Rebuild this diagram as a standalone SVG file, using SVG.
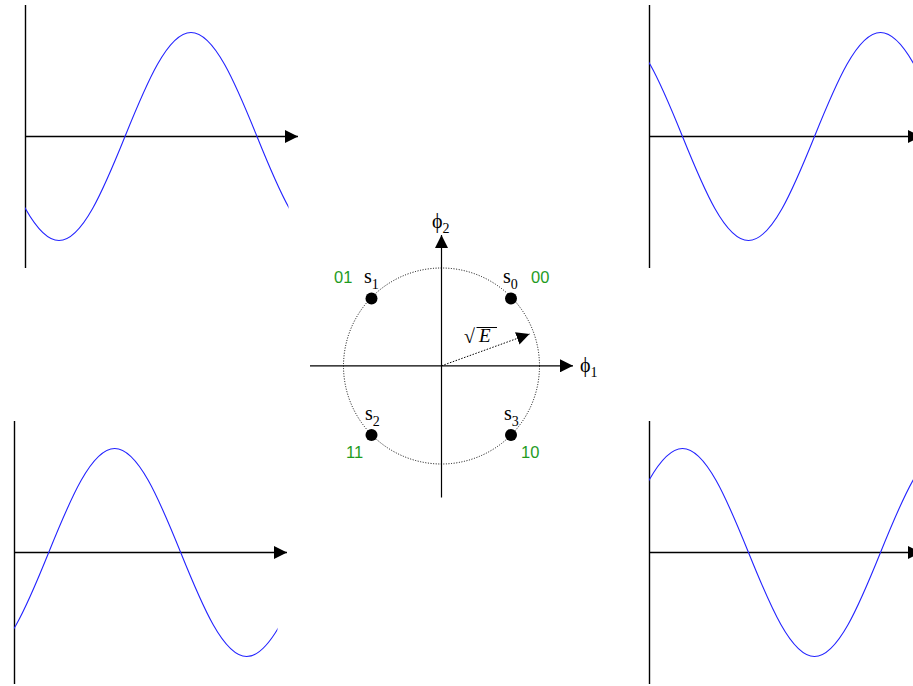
<svg xmlns="http://www.w3.org/2000/svg" width="913" height="686" viewBox="0 0 913 686">
<style>
.axis{stroke:#000;stroke-width:1.4;fill:none}
.caxis{stroke:#000;stroke-width:1.2;fill:none}
.wave{fill:none;stroke:#2323ff;stroke-width:1.1}
.circ{fill:none;stroke:#000;stroke-width:1;stroke-dasharray:1 1.6}
.vec{stroke:#000;stroke-width:1;stroke-dasharray:1.5 1.5;fill:none}
.dot{fill:#000}
.lbl{font-family:"Liberation Serif","DejaVu Serif",serif;fill:#000}
.bits{font-family:"Liberation Sans",Arial,sans-serif;font-size:16.5px;fill:#1f9c1f}
</style>
<defs>
<marker id="ah" markerUnits="userSpaceOnUse" viewBox="0 0 13 13" markerWidth="13" markerHeight="13" refX="13" refY="6.5" orient="auto"><path d="M0,0 L13,6.5 L0,13 z" fill="#000"/></marker>
<path id="wave" d="M-264,0 c21.52,-53.28 42.8,-104 66,-104 c23.2,0 44.48,50.72 66,104 c21.52,53.28 42.8,104 66,104 c23.2,0 44.48,-50.72 66,-104 c21.52,-53.28 42.8,-104 66,-104 c23.2,0 44.48,50.72 66,104 c21.52,53.28 42.8,104 66,104 c23.2,0 44.48,-50.72 66,-104 c21.52,-53.28 42.8,-104 66,-104 c23.2,0 44.48,50.72 66,104 c21.52,53.28 42.8,104 66,104 c23.2,0 44.48,-50.72 66,-104"/>
<clipPath id="c-tl"><rect x="25" y="0" width="263.5" height="290"/></clipPath>
<clipPath id="c-tr"><rect x="649" y="0" width="264" height="290"/></clipPath>
<clipPath id="c-bl"><rect x="14" y="410" width="263.5" height="276"/></clipPath>
<clipPath id="c-br"><rect x="649" y="410" width="264" height="276"/></clipPath>
</defs>

<g id="panel-tl">
<line class="axis" x1="25.5" y1="5" x2="25.5" y2="268"/>
<line class="axis" x1="25" y1="136.5" x2="298" y2="136.5" marker-end="url(#ah)"/>
<g clip-path="url(#c-tl)"><use href="#wave" class="wave" transform="translate(125,136.5)"/></g>
</g>

<g id="panel-tr">
<line class="axis" x1="649.5" y1="5" x2="649.5" y2="268"/>
<line class="axis" x1="649" y1="136.5" x2="921" y2="136.5" marker-end="url(#ah)"/>
<g clip-path="url(#c-tr)"><use href="#wave" class="wave" transform="translate(814.5,136.5)"/></g>
</g>

<g id="panel-bl">
<line class="axis" x1="14.5" y1="421" x2="14.5" y2="684"/>
<line class="axis" x1="14" y1="552.5" x2="287" y2="552.5" marker-end="url(#ah)"/>
<g clip-path="url(#c-bl)"><use href="#wave" class="wave" transform="translate(48.7,552.5)"/></g>
</g>

<g id="panel-br">
<line class="axis" x1="649.5" y1="421" x2="649.5" y2="684"/>
<line class="axis" x1="649" y1="552.5" x2="921" y2="552.5" marker-end="url(#ah)"/>
<g clip-path="url(#c-br)"><use href="#wave" class="wave" transform="translate(880.5,552.5)"/></g>
</g>

<g id="constellation">
<circle class="circ" cx="441.5" cy="366" r="98"/>
<line class="caxis" x1="310" y1="365.8" x2="573" y2="365.8" marker-end="url(#ah)"/>
<line class="caxis" x1="441.5" y1="497.5" x2="441.5" y2="235" marker-end="url(#ah)"/>
<text class="lbl" x="580" y="372" font-size="20">ϕ<tspan font-size="14" dy="5">1</tspan></text>
<text class="lbl" x="432" y="228" font-size="20">ϕ<tspan font-size="14" dy="5">2</tspan></text>
</g>

<g id="connectors">
<line class="vec" x1="441.5" y1="365.8" x2="529.5" y2="334" marker-end="url(#ah)"/>
</g>

<g id="radius-label">
<text class="lbl" x="464" y="343" font-size="20">√</text>
<line x1="476.5" y1="327.5" x2="497" y2="327.5" stroke="#000" stroke-width="1"/>
<text class="lbl" x="479" y="342" font-size="19" font-style="italic">E</text>
</g>

<g id="s0">
<circle class="dot" cx="511" cy="298.5" r="6"/>
<text class="lbl" x="503" y="283" font-size="20">s<tspan font-size="14" dy="6">0</tspan></text>
<text class="bits" x="531" y="283">00</text>
</g>
<g id="s1">
<circle class="dot" cx="371.5" cy="298.5" r="6"/>
<text class="lbl" x="364" y="283" font-size="20">s<tspan font-size="14" dy="6">1</tspan></text>
<text class="bits" x="334" y="283">01</text>
</g>
<g id="s2">
<circle class="dot" cx="371.5" cy="435" r="6"/>
<text class="lbl" x="365" y="420" font-size="20">s<tspan font-size="14" dy="6">2</tspan></text>
<text class="bits" x="346" y="458">11</text>
</g>
<g id="s3">
<circle class="dot" cx="511" cy="435" r="6"/>
<text class="lbl" x="504" y="420" font-size="20">s<tspan font-size="14" dy="6">3</tspan></text>
<text class="bits" x="521" y="458">10</text>
</g>
</svg>
